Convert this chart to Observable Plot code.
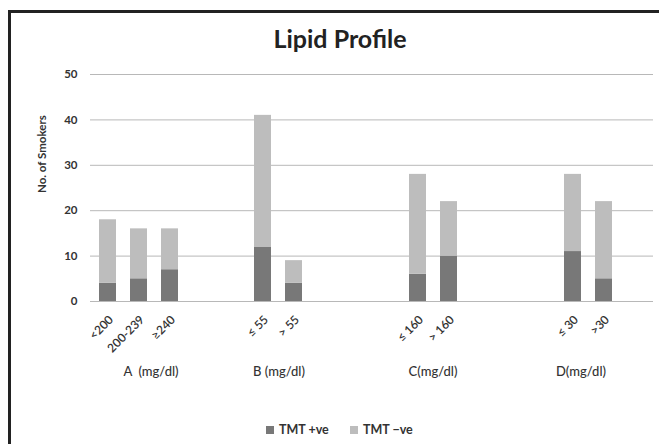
<!DOCTYPE html>
<html>
<head>
<meta charset="utf-8">
<script src="https://cdn.jsdelivr.net/npm/d3@7"></script>
<script src="https://cdn.jsdelivr.net/npm/@observablehq/plot@0.6"></script>
<style>
  html, body { margin: 0; background: #fff; overflow: hidden; }
  #wrap { position: relative; width: 659px; height: 444px; overflow: hidden; font-family: Lato, "Open Sans", sans-serif; color: #333; }
  #edgeTop { position: absolute; left: 8px; top: 10px; width: 651px; height: 3px; background: #222; }
  #edgeLeft { position: absolute; left: 8px; top: 10px; width: 3px; height: 434px; background: #222; }
  #title { position: absolute; top: 26px; left: 0; width: 680px; text-align: center; font-size: 25px; line-height: 25px; font-weight: bold; color: #222; }
  #chart { position: absolute; left: 0; top: 0; }
  .key { position: absolute; top: 423px; font-size: 12.5px; line-height: 13px; font-weight: bold; color: #333; display: flex; align-items: center; }
  .swatch { display: inline-block; width: 8px; height: 8px; margin-right: 5px; }
</style>
</head>
<body>
<div id="wrap">
  <div id="edgeTop"></div>
  <div id="edgeLeft"></div>
  <div id="title">Lipid Profile</div>
  <div id="chart"></div>
  <div id="legend"></div>
</div>
<script>
// Lipid profile of smokers, split by TMT result
const categories = ["<200", "200-239", "≥240", "≤ 55", "> 55", "≤ 160", "> 160", "≤ 30", ">30"];
const groupNames = ["A  (mg/dl)", "B (mg/dl)", "C(mg/dl)", "D(mg/dl)"];
const groupOfCategory = [0, 0, 0, 1, 1, 2, 2, 3, 3];
const seriesNames = ["TMT +ve", "TMT −ve"];
const tmtPositive = [4, 5, 7, 12, 4, 6, 10, 11, 5];
const tmtNegative = [14, 11, 9, 29, 5, 22, 12, 17, 17];
const yTicks = [0, 10, 20, 30, 40, 50];

const seriesColors = ["#787878", "#bdbdbd"];

// Empty slots between the groups on the category axis
const gapAfterGroup = [2, 3, 3, 1];
const slots = [];
let blank = 0;
groupNames.forEach((g, gi) => {
  categories.forEach((c, ci) => { if (groupOfCategory[ci] === gi) slots.push(c); });
  for (let k = 0; k < gapAfterGroup[gi]; k++) slots.push(`blank${blank++}`);
});

const rows = [];
categories.forEach((c, i) => {
  rows.push({category: c, series: seriesNames[0], count: tmtPositive[i]});
  rows.push({category: c, series: seriesNames[1], count: tmtNegative[i]});
});

// Each group label sits under its categories; small nudges per group
const groupLabelAt = [{cat: "200-239", dx: 12}, {cat: "≤ 55", dx: 16}, {cat: "≤ 160", dx: 15}, {cat: "≤ 30", dx: 8}];
const groupRows = groupNames.map((name, i) => ({name, ...groupLabelAt[i]}));

const chart = Plot.plot({
  width: 659,
  height: 444,
  marginLeft: 90,
  marginRight: 6,
  marginTop: 74,
  marginBottom: 143,
  style: {fontFamily: "Lato, 'Open Sans', sans-serif", color: "#333", background: "transparent"},
  x: {domain: slots, paddingInner: 0.44, paddingOuter: 0.22, axis: null},
  y: {domain: [0, 50], axis: null},
  color: {domain: seriesNames, range: seriesColors},
  marks: [
    Plot.ruleY(yTicks, {stroke: "#b8b8b8", strokeWidth: 1}),
    Plot.text(yTicks, {y: d => d, frameAnchor: "left", textAnchor: "end", dx: -13, fontSize: 11.5, fontWeight: "bold", fill: "#333"}),
    Plot.text(["No. of Smokers"], {frameAnchor: "left", rotate: -90, dx: -48, dy: 5, fontSize: 11.5, fontWeight: "bold", fill: "#333"}),
    Plot.barY(rows, Plot.stackY({x: "category", y: "count", fill: "series"})),
    Plot.text(categories, {x: d => d, frameAnchor: "bottom", rotate: -45, textAnchor: "end", dx: 6, dy: 19, fontSize: 12, fontWeight: 600, fill: "#333"}),
    ...groupRows.map(g => Plot.text([g], {x: "cat", text: "name", frameAnchor: "bottom", dx: g.dx, dy: 74, fontSize: 13, fontWeight: 500, fill: "#333"}))
  ]
});
document.getElementById("chart").appendChild(chart);

// Legend below the plot
const legend = document.getElementById("legend");
const legendLeft = [266, 350];
seriesNames.forEach((name, i) => {
  const item = document.createElement("div");
  item.className = "key";
  item.style.left = legendLeft[i] + "px";
  const sw = document.createElement("span");
  sw.className = "swatch";
  sw.style.background = seriesColors[i];
  item.appendChild(sw);
  item.appendChild(document.createTextNode(name));
  legend.appendChild(item);
});
</script>
</body>
</html>
